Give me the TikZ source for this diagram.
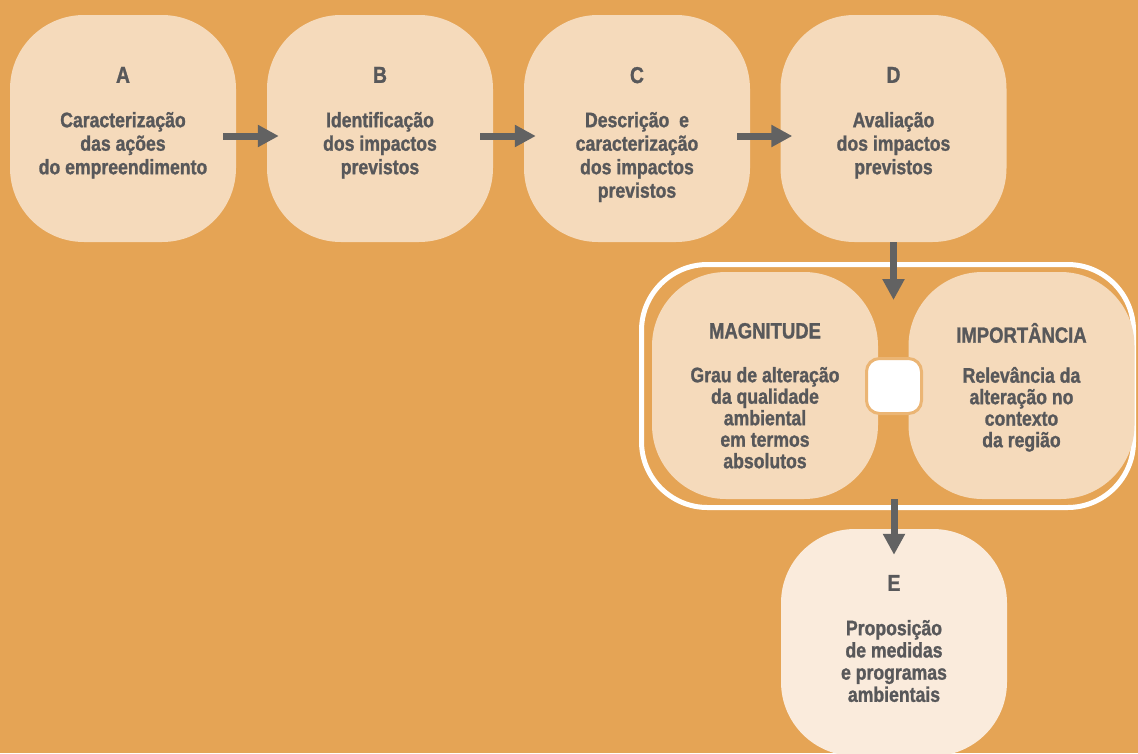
\documentclass[tikz,border=0pt]{standalone}
\usepackage{fontspec}
\setmainfont{Liberation Sans}[FakeStretch=0.84, BoldFeatures={FakeBold=1.2}]
\usetikzlibrary{positioning,arrows.meta}

\definecolor{bgorange}{HTML}{E5A455}
\definecolor{stagefill}{HTML}{F5DABB}
\definecolor{lastfill}{HTML}{FAEBDC}
\definecolor{hubline}{HTML}{EBB574}
\definecolor{inkgray}{HTML}{58585A}
\definecolor{arrowgray}{HTML}{626262}

\tikzset{
  stage/.style={fill=stagefill, rounded corners=74pt, minimum width=226pt,
    minimum height=227pt, inner sep=0pt},
  letter/.style={text=inkgray, font=\bfseries\fontsize{23}{23}\selectfont,
    anchor=north, inner sep=0pt},
  desc/.style={text=inkgray, font=\bfseries\fontsize{21}{23.5}\selectfont,
    align=center, anchor=north, inner sep=0pt},
  flow/.style={draw=arrowgray, line width=7pt,
    -{Triangle[width=21pt,length=21pt]}},
}

\begin{document}
\begin{tikzpicture}[x=1pt,y=-1pt]
  \fill[bgorange] (0,0) rectangle (1138,753);
  \useasboundingbox (0,0) rectangle (1138,753);

  % first row
  \node[stage] (A) at (123,128.5) {};
  \node[stage] (B) at (380,128.5) {};
  \node[stage] (C) at (637,128.5) {};
  \node[stage] (D) at (893.5,128.5) {};

  \node[letter, below=52pt of A.north] (A-letter) {A};
  \node[desc, below=97pt of A.north] (A-text) {Caracterização\\das ações\\do empreendimento};
  \node[letter, below=52pt of B.north] (B-letter) {B};
  \node[desc, below=97pt of B.north] (B-text) {Identificação\\dos impactos\\previstos};
  \node[letter, below=52pt of C.north] (C-letter) {C};
  \node[desc, below=97pt of C.north] (C-text) {Descrição\ \ e\\caracterização\\dos impactos\\previstos};
  \node[letter, below=52pt of D.north] (D-letter) {D};
  \node[desc, below=97pt of D.north] (D-text) {Avaliação\\dos impactos\\previstos};

  \draw[flow] ([xshift=-13pt,yshift=-7.5pt]A.east) -- ([xshift=12pt,yshift=-7.5pt]B.west);
  \draw[flow] ([xshift=-13pt,yshift=-7.5pt]B.east) -- ([xshift=12pt,yshift=-7.5pt]C.west);
  \draw[flow] ([xshift=-13pt,yshift=-7.5pt]C.east) -- ([xshift=12pt,yshift=-7.5pt]D.west);

  % evaluation criteria
  \node[draw=white, line width=5pt, rounded corners=66pt, minimum width=492pt,
    minimum height=243pt, inner sep=0pt] (frame) at (887.5,386) {};
  \node[stage] (mag) at (765,385.5) {};
  \node[stage] (imp) at (1021.5,385.5) {};
  \node[fill=white, draw=hubline, line width=3pt, rounded corners=13pt,
    minimum size=55pt, inner sep=0pt] (hub) at (894,386) {};

  \node[letter, font=\bfseries\fontsize{22}{22}\selectfont, below=51pt of mag.north] (mag-title) {MAGNITUDE};
  \node[desc, font=\bfseries\fontsize{21}{21.5}\selectfont, below=95pt of mag.north] (mag-text)
    {Grau de alteração\\da qualidade\\ambiental\\em termos\\absolutos};
  \node[letter, font=\bfseries\fontsize{22}{22}\selectfont, below=51pt of imp.north] (imp-title) {IMPORTÂNCIA};
  \node[desc, font=\bfseries\fontsize{21}{21.5}\selectfont, below=95pt of imp.north] (imp-text)
    {Relevância da\\alteração no\\contexto\\da região};

  \draw[flow] (D.south) -- ([yshift=-38pt]D.south |- frame.north);

  % last stage
  \node[stage, fill=lastfill] (E) at (894,642.5) {};
  \node[letter, below=46pt of E.north] (E-letter) {E};
  \node[desc, font=\bfseries\fontsize{21}{22.2}\selectfont, below=91pt of E.north] (E-text)
    {Proposição\\de medidas\\e programas\\ambientais};

  \draw[flow] (E.north |- mag.south) -- ([yshift=-26pt]E.north);
\end{tikzpicture}
\end{document}
